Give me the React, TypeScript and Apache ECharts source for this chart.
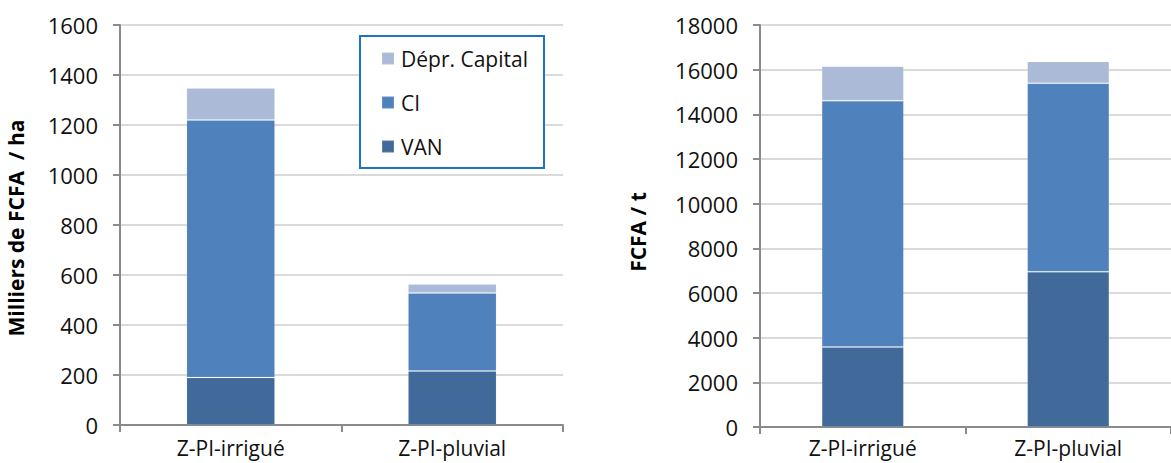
import React, { useEffect, useRef } from "react";
import * as echarts from "echarts";

const categories = ["Z-PI-irrigué", "Z-PI-pluvial"];
const seriesNames = ["VAN", "CI", "Dépr. Capital"];
// Left chart: Milliers de FCFA / ha
const leftVAN = [190, 216];
const leftCI = [1030, 312];
const leftDepr = [128, 36];
// Right chart: FCFA / t
const rightVAN = [3580, 6950];
const rightCI = [11030, 8440];
const rightDepr = [1540, 980];
const leftTicks = { min: 0, max: 1600, interval: 200 };
const rightTicks = { min: 0, max: 18000, interval: 2000 };
const leftTitle = "Milliers de FCFA  / ha";
const rightTitle = "FCFA / t";

const colors = ["#41699A", "#4F81BD", "#AABAD7"];
const FONT = "Open Sans";

export default function App() {
  const ref = useRef<HTMLDivElement>(null);
  useEffect(() => {
    if (!ref.current) return;
    const chart = echarts.init(ref.current, null, { renderer: "svg" });
    const axisLine = { show: true, lineStyle: { color: "#8A8A8A", width: 2 } };
    const splitLine = { show: true, lineStyle: { color: "#DADADA", width: 2 } };
    const yAxisBase = (gridIndex: number, t: any) => ({
      type: "value",
      gridIndex,
      min: t.min,
      max: t.max,
      interval: t.interval,
      axisLine,
      axisTick: { show: true, length: 7, lineStyle: { color: "#8A8A8A", width: 2 } },
      axisLabel: {
        fontFamily: FONT,
        fontSize: 22,
        color: "#111",
        margin: 22,
        formatter: (v: number) => String(v),
      },
      splitLine,
    });
    const xAxisBase = (gridIndex: number, margin: number) => ({
      type: "category",
      gridIndex,
      data: categories,
      boundaryGap: true,
      axisLine,
      axisTick: { show: true, length: 7, alignWithLabel: false, lineStyle: { color: "#8A8A8A", width: 2 } },
      axisLabel: { fontFamily: FONT, fontSize: 21, color: "#111", margin },
      splitLine: { show: false },
    });
    const mk = (name: string, data: number[], idx: number, color: string, stack: string) => ({
      type: "bar",
      name,
      data,
      stack,
      xAxisIndex: idx,
      yAxisIndex: idx,
      barWidth: "40%",
      itemStyle: { color, borderColor: "rgba(255,255,255,0.12)", borderWidth: 1 },
      emphasis: { disabled: true },
    });
    const titleFont = `bold 21px "${FONT}"`;
    chart.setOption({
      animation: false,
      grid: [
        { left: 120, top: 25, width: 443, height: 400 },
        { left: 760, top: 25, width: 420, height: 402 },
      ],
      xAxis: [xAxisBase(0, 12), xAxisBase(1, 10)],
      yAxis: [yAxisBase(0, leftTicks), yAxisBase(1, rightTicks)],
      legend: {
        data: [seriesNames[2], seriesNames[1], seriesNames[0]],
        orient: "vertical",
        left: 381,
        top: 48,
        padding: 0,
        icon: "rect",
        itemWidth: 12,
        itemHeight: 12,
        itemGap: 23,
        textStyle: { fontFamily: FONT, fontSize: 21, color: "#111", lineHeight: 21, padding: [0, 0, 0, 2] },
        z: 5,
      },
      graphic: [
        {
          type: "rect",
          z: 3,
          shape: { x: 360, y: 36, width: 184, height: 132 },
          style: { fill: "#fff", stroke: "#1E73C4", lineWidth: 2 },
        },
        {
          type: "text",
          z: 3,
          x: 16,
          y: 228,
          rotation: Math.PI / 2,
          style: { text: leftTitle, font: titleFont, fill: "#000", align: "center", verticalAlign: "middle" },
        },
        {
          type: "text",
          z: 3,
          x: 638,
          y: 232,
          rotation: Math.PI / 2,
          style: { text: rightTitle, font: titleFont, fill: "#000", align: "center", verticalAlign: "middle" },
        },
      ],
      series: [
        mk(seriesNames[0], leftVAN, 0, colors[0], "L"),
        mk(seriesNames[1], leftCI, 0, colors[1], "L"),
        mk(seriesNames[2], leftDepr, 0, colors[2], "L"),
        mk(seriesNames[0], rightVAN, 1, colors[0], "R"),
        mk(seriesNames[1], rightCI, 1, colors[1], "R"),
        mk(seriesNames[2], rightDepr, 1, colors[2], "R"),
      ],
    });
    return () => chart.dispose();
  }, []);
  return (
    <div style={{ position: "absolute", left: 0, top: 0, width: 1171, height: 463, background: "#fff" }}>
      <div ref={ref} style={{ width: 1171, height: 463 }} />
    </div>
  );
}
